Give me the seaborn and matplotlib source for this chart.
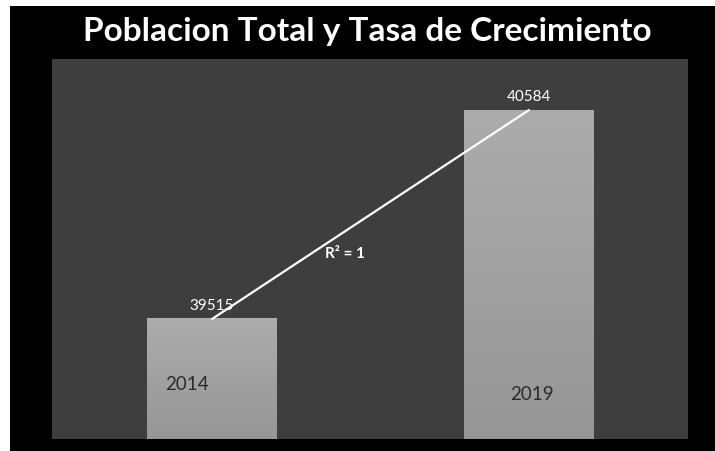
import numpy as np
import pandas as pd
import matplotlib
matplotlib.use("Agg")
import matplotlib.pyplot as plt
import seaborn as sns

years = ["2014", "2019"]
population = [39515, 40584]
r2_label = "R² = 1"
title = "Poblacion Total y Tasa de Crecimiento"

df = pd.DataFrame({"Year": years, "Population": population})
df["pos"] = np.arange(len(df))

sns.set_style("dark")
plt.rcParams["font.family"] = ["Lato", "DejaVu Sans"]

fig = plt.figure(figsize=(7.15, 4.52), dpi=100)
fig.patch.set_facecolor("white")
# black frame with thin white margin at top/left like the slide screenshot
fig.patches.append(plt.Rectangle((10 / 715, 0), 1, 1 - 7 / 452, transform=fig.transFigure,
                                 facecolor="black", edgecolor="none", zorder=-10))

ax = fig.add_axes([52 / 715, 12 / 452, 636 / 715, 380 / 452])
ax.set_facecolor("#3e3e3e")

sns.barplot(data=df, x="pos", y="Population", color="#a6a6a6", width=0.41,
            native_scale=True, saturation=1, linewidth=0, ax=ax, zorder=2)

# linear trendline through the bar tops
sns.regplot(data=df, x="pos", y="Population", scatter=False, ci=None, ax=ax,
            line_kws={"color": "white", "lw": 1.6, "zorder": 4})

ax.set_xlim(-0.505, 1.502)
ax.set_ylim(38901, 40845)

# vertical gradient on bars, kept inside the visible axis range
grad = np.linspace(0, 1, 256).reshape(-1, 1)
cmap = matplotlib.colors.LinearSegmentedColormap.from_list("g", ["#969696", "#acacac"])
ymin = ax.get_ylim()[0]
for p in list(ax.patches):
    x0, y1 = p.get_x(), p.get_y() + p.get_height()
    im = ax.imshow(grad, cmap=cmap, aspect="auto", origin="lower", interpolation="bilinear",
                   extent=[x0, x0 + p.get_width(), ymin, y1], zorder=3)

ax.set_xlim(-0.505, 1.502)
ax.set_ylim(38901, 40845)

for i, row in df.iterrows():
    ax.annotate(f"{row['Population']}", (row["pos"], row["Population"]), xytext=(0, 5),
                textcoords="offset points", ha="center", va="bottom",
                color="white", fontsize=11, zorder=5)

ax.text(df["pos"][0] - 0.08, 39185, years[0], ha="center", va="center",
        color="#2b2b2b", fontsize=13.5, zorder=5)
ax.text(df["pos"][1] + 0.01, 39135, years[1], ha="center", va="center",
        color="#2b2b2b", fontsize=13.5, zorder=5)
ax.text(0.42, 39855, r2_label, ha="center", va="center", color="white",
        fontsize=11, fontweight="bold", zorder=5)

ax.set_xlabel("")
ax.set_ylabel("")
ax.set_xticks([])
ax.set_yticks([])
for s in ax.spines.values():
    s.set_visible(False)

fig.text(367 / 715, 1 - 31 / 452, title, ha="center", va="center", color="white",
         fontsize=24, fontweight="bold")

fig.savefig("out.png", dpi=100, facecolor=fig.get_facecolor())
